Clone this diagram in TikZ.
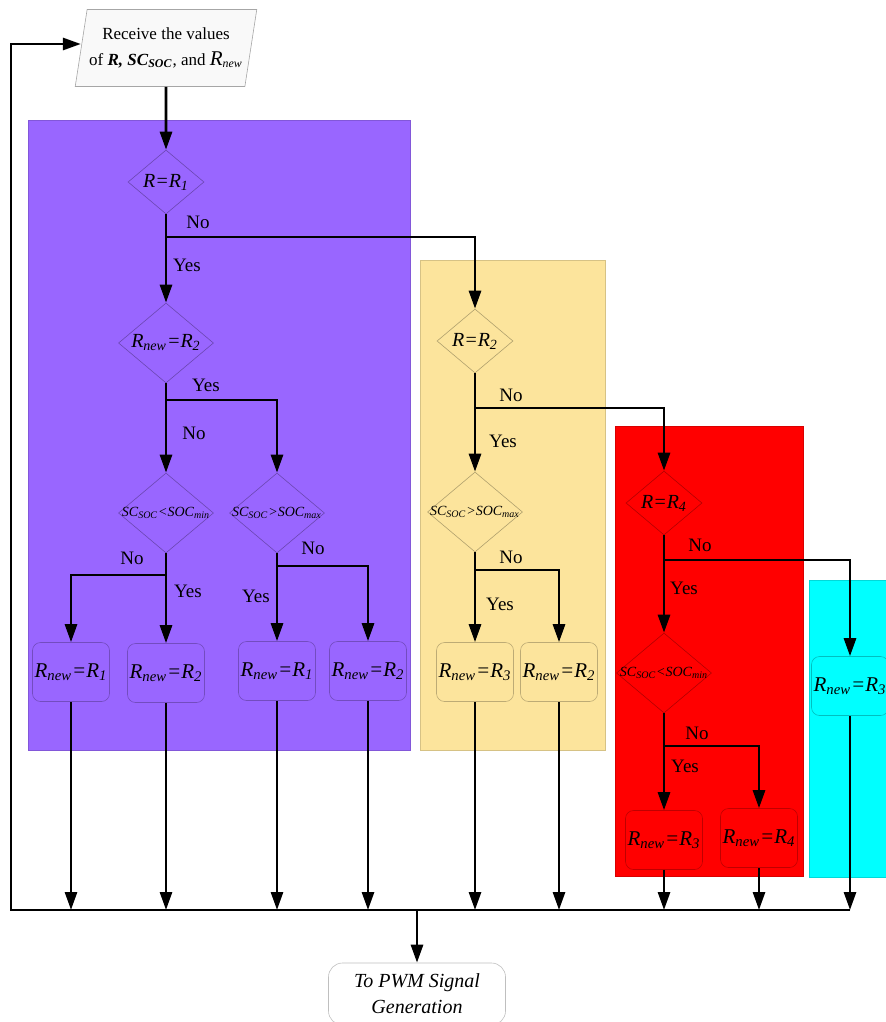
\documentclass[tikz,border=0pt]{standalone}
\usepackage{fontspec}
\setmainfont{Liberation Serif}
\usetikzlibrary{arrows.meta,shapes.geometric,calc}
\definecolor{lilac}{RGB}{153,102,255}
\definecolor{sand}{RGB}{252,228,156}
\definecolor{alarm}{RGB}{255,0,0}
\definecolor{aqua}{RGB}{0,255,255}
\newcommand{\sbs}[1]{\textsubscript{#1}}
\newcommand{\nowidth}[1]{\makebox[0pt]{#1}}
\tikzset{
  zone/.style={fill=#1,draw=#1!85!black,line width=0.3pt},
  dec/.style={diamond,draw=#1!70!black,line width=0.3pt,inner sep=0pt,
              minimum width=38pt,minimum height=32pt,
              font=\fontsize{10}{12}\selectfont\itshape},
  wide/.style={minimum width=47.5pt,minimum height=40pt,
               font=\fontsize{7}{8}\selectfont\itshape},
  res/.style={draw=#1!75!black,line width=0.3pt,rounded corners=4pt,
              minimum width=38.5pt,minimum height=29.5pt,inner sep=0pt,
              font=\fontsize{10.5}{12}\selectfont\itshape},
  ar/.style={-{Triangle[length=9pt,width=6pt]},line width=1.4pt},
  ln/.style={line width=1.4pt},
  ans/.style={font=\fontsize{9.5}{11}\selectfont,inner sep=0pt},
  io/.style={trapezium,trapezium left angle=75,trapezium right angle=105,
             trapezium stretches=true,
             draw=gray!70,fill=gray!5,line width=0.3pt,minimum width=87pt,
             minimum height=38.5pt,inner sep=1pt,align=center,
             font=\fontsize{8.5}{13}\selectfont},
  term/.style={draw=gray!50,line width=0.3pt,rounded corners=7pt,
               minimum width=88.5pt,minimum height=31pt,align=center,
               font=\fontsize{10}{13}\selectfont\itshape},
}
\begin{document}
\begin{tikzpicture}[x=0.5pt,y=-0.5pt]
  \useasboundingbox (0,0) rectangle (886,1022);
  \clip (0,0) rectangle (886,1022);
  % coloured zones
  \fill[zone=lilac] (28,120) rectangle (410,750);
  \fill[zone=sand] (420,260) rectangle (605,750);
  \fill[zone=alarm] (615,426) rectangle (803,876);
  \fill[zone=aqua] (809,580) rectangle (900,877);
  % input
  \node[io] (inp) at (166,48)
    {Receive the values\\of \textbf{\textit{R, SC}\sbs{\textit{SOC}}}, and
     {\fontsize{10.5}{10}\selectfont\itshape R}\sbs{\itshape new}};
  % decisions
  \node[dec=lilac] (d1) at (166,182) {\nowidth{R=R\sbs{1}}};
  \node[dec=lilac,wide,font=\fontsize{10}{12}\selectfont\itshape] (d2) at (166,343)
    {\nowidth{R\sbs{new}=R\sbs{2}}};
  \node[dec=lilac,wide] (d3) at (166,513) {\nowidth{SC\sbs{SOC}<SOC\sbs{min}}};
  \node[dec=lilac,wide] (d4) at (277,513) {\nowidth{SC\sbs{SOC}>SOC\sbs{max}}};
  \node[dec=sand] (d5) at (475,341) {\nowidth{R=R\sbs{2}}};
  \node[dec=sand,wide] (d6) at (475,512) {\nowidth{SC\sbs{SOC}>SOC\sbs{max}}};
  \node[dec=alarm] (d7) at (664,503) {\nowidth{R=R\sbs{4}}};
  \node[dec=alarm,wide] (d8) at (664,673) {\nowidth{SC\sbs{SOC}<SOC\sbs{min}}};
  % results
  \node[res=lilac] (b1) at (71,672) {R\sbs{new}=R\sbs{1}};
  \node[res=lilac] (b2) at (166,673) {R\sbs{new}=R\sbs{2}};
  \node[res=lilac] (b3) at (277,671) {R\sbs{new}=R\sbs{1}};
  \node[res=lilac] (b4) at (368,671) {R\sbs{new}=R\sbs{2}};
  \node[res=sand] (b5) at (475,672) {R\sbs{new}=R\sbs{3}};
  \node[res=sand] (b6) at (559,672) {R\sbs{new}=R\sbs{2}};
  \node[res=alarm] (b7) at (664,840) {R\sbs{new}=R\sbs{3}};
  \node[res=alarm] (b8) at (759,838) {R\sbs{new}=R\sbs{4}};
  \node[res=aqua] (b9) at (850,686) {R\sbs{new}=R\sbs{3}};
  \node[term] (pwm) at (417,994) {To PWM Signal\\Generation};
  % branch points
  \coordinate (j1) at (166,237);
  \coordinate (j2) at (166,400);
  \coordinate (j3) at (166,575);
  \coordinate (j4) at (277,566);
  \coordinate (j5) at (475,408);
  \coordinate (j6) at (475,570);
  \coordinate (j7) at (664,560);
  \coordinate (j8) at (664,746);
  \coordinate (bus) at (0,910);
  \coordinate (bl) at (11,910);
  \coordinate (br) at (850,910);
  \coordinate (bm) at (417,910);
  \coordinate (lt) at (11,44);
  % answers
  \node[ans] (n1) at (198,222) {No};
  \node[ans] (y1) at (187,265) {Yes};
  \node[ans] (y2) at (206,385) {Yes};
  \node[ans] (n2) at (194,433) {No};
  \node[ans] (n3) at (132,558) {No};
  \node[ans] (y3) at (188,591) {Yes};
  \node[ans] (n4) at (313,548) {No};
  \node[ans] (y4) at (256,596) {Yes};
  \node[ans] (n5) at (511,395) {No};
  \node[ans] (y5) at (503,441) {Yes};
  \node[ans] (n6) at (511,557) {No};
  \node[ans] (y6) at (500,604) {Yes};
  \node[ans] (n7) at (700,545) {No};
  \node[ans] (y7) at (684,588) {Yes};
  \node[ans] (n8) at (697,733) {No};
  \node[ans] (y8) at (685,766) {Yes};
  % flow
  \draw[ar] (inp) -- (d1);
  \draw[ln] (d1) -- (j1); \draw[ar] (j1) -- (d2); \draw[ar] (j1) -| (d5);
  \draw[ln] (d2) -- (j2); \draw[ar] (j2) -- (d3); \draw[ar] (j2) -| (d4);
  \draw[ln] (d3) -- (j3); \draw[ar] (j3) -- (b2); \draw[ar] (j3) -| (b1);
  \draw[ln] (d4) -- (j4); \draw[ar] (j4) -- (b3); \draw[ar] (j4) -| (b4);
  \draw[ln] (d5) -- (j5); \draw[ar] (j5) -- (d6); \draw[ar] (j5) -| (d7);
  \draw[ln] (d6) -- (j6); \draw[ar] (j6) -- (b5); \draw[ar] (j6) -| (b6);
  \draw[ln] (d7) -- (j7); \draw[ar] (j7) -- (d8); \draw[ar] (j7) -| (b9);
  \draw[ln] (d8) -- (j8); \draw[ar] (j8) -- (b7); \draw[ar] (j8) -| (b8);
  \foreach \i in {1,...,9} \draw[ar] (b\i) -- (b\i |- bus);
  \draw[ar] (br) -- (bl) -- (lt) -- (lt -| inp.west);
  \draw[ar] (bm) -- (pwm);
\end{tikzpicture}
\end{document}
